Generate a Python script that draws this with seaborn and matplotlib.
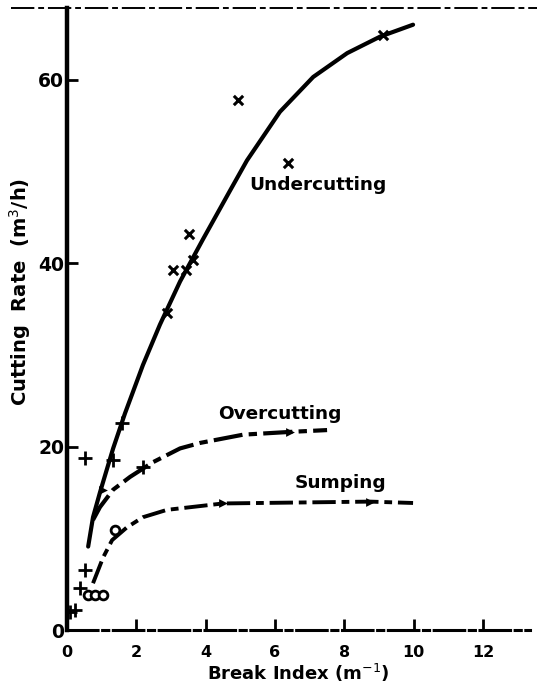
import matplotlib
matplotlib.use("Agg")
import matplotlib.pyplot as plt
import seaborn as sns
import pandas as pd
from matplotlib.lines import Line2D

sns.set_theme(style="white")
plt.rcParams["font.family"] = ["DejaVu Sans"]
plt.rcParams.update({"text.color": "black", "axes.labelcolor": "black",
                     "xtick.color": "black", "ytick.color": "black"})

# Fitted curves (break index in m^-1, cutting rate in m^3/h)
under_x = [0.61, 0.75, 0.95, 1.33, 1.67, 2.19, 2.68, 3.26, 3.92, 4.70, 5.19, 6.14, 7.1, 8.08, 9.03, 9.98]
under_y = [9.1, 12.3, 15.0, 19.8, 23.6, 28.9, 33.3, 38.0, 42.6, 47.9, 51.2, 56.5, 60.3, 62.9, 64.7, 66.0]

over_x = [0.75, 0.95, 1.33, 1.82, 2.48, 3.26, 3.84, 5.08, 6.43, 7.5]
over_y = [12.0, 13.4, 15.3, 16.7, 18.3, 19.8, 20.4, 21.3, 21.6, 21.8]

sump_x = [0.75, 1.04, 1.3, 1.73, 2.19, 2.88, 4.5, 8.74, 9.98]
sump_y = [5.1, 7.9, 9.8, 11.2, 12.3, 13.1, 13.8, 14.0, 13.85]

# Measured points
under_pts_x = [9.11, 4.93, 6.37, 3.52, 3.06, 3.43, 3.63, 2.88]
under_pts_y = [64.9, 57.8, 50.9, 43.2, 39.2, 39.3, 40.3, 34.6]

plus_pts_x = [1.59, 0.52, 1.33, 0.52, 0.38, 0.23, 0.08, 2.19]
plus_pts_y = [22.6, 18.8, 18.5, 6.5, 4.6, 2.2, 2.0, 17.8]

circle_pts_x = [0.61, 0.81, 1.04, 1.38]
circle_pts_y = [3.8, 3.8, 3.8, 10.9]

arrow_pts_x = [1.04, 6.43, 4.5, 8.74]
arrow_pts_y = [15.3, 21.6, 13.8, 14.0]

x_ticks = [0, 2, 4, 6, 8, 10, 12]
y_ticks = [0, 20, 40, 60]

fig = plt.figure(figsize=(5.37, 6.94), dpi=100)
ax = fig.add_axes([0.1248, 0.0922, 0.862, 0.896])

curves = pd.concat([
    pd.DataFrame({"x": under_x, "y": under_y, "mode": "Undercutting"}),
    pd.DataFrame({"x": over_x, "y": over_y, "mode": "Overcutting"}),
    pd.DataFrame({"x": sump_x, "y": sump_y, "mode": "Sumping"}),
])

sns.lineplot(data=curves[curves["mode"] == "Undercutting"], x="x", y="y",
             sort=False, estimator=None, color="black", lw=3.0, ax=ax)
ax.lines[-1].set_solid_joinstyle("round")
sns.lineplot(data=curves[curves["mode"] == "Overcutting"], x="x", y="y",
             sort=False, estimator=None, color="black", lw=3.0, ax=ax)
ax.lines[-1].set_dashes([7, 1.5, 2, 1.5])
sns.lineplot(data=curves[curves["mode"] == "Sumping"], x="x", y="y",
             sort=False, estimator=None, color="black", lw=2.8, ax=ax)
ax.lines[-1].set_dashes([6, 1.5, 2, 1.5])

sns.scatterplot(x=under_pts_x, y=under_pts_y, marker="x", s=45,
                color="black", linewidth=2.2, ax=ax)
sns.scatterplot(x=plus_pts_x, y=plus_pts_y, marker="+", s=110,
                color="black", linewidth=2.0, ax=ax)
sns.scatterplot(x=circle_pts_x, y=circle_pts_y, marker="o", s=40,
                facecolor="white", edgecolor="black", linewidth=2.0, ax=ax)
sns.scatterplot(x=arrow_pts_x, y=arrow_pts_y, marker=">", s=40,
                color="black", linewidth=0, ax=ax)

ax.set_xlim(0, 13.35)
ax.set_ylim(0, 67.8)
ax.set_xticks(x_ticks)
ax.set_yticks(y_ticks)
ax.set_xticklabels([str(t) for t in x_ticks], fontsize=11.5, fontweight="bold")
ax.set_yticklabels([str(t) for t in y_ticks], fontsize=13.5, fontweight="bold")
ax.tick_params(axis="both", direction="in", length=8, width=2, color="black",
               left=True, bottom=True)
ax.tick_params(axis="x", pad=11)
ax.tick_params(axis="y", pad=2)

for side in ["top", "right"]:
    ax.spines[side].set_visible(False)
ax.spines["left"].set_linewidth(3.2)
ax.spines["left"].set_color("black")
ax.spines["bottom"].set_linewidth(2.2)
ax.spines["bottom"].set_color("black")
ax.spines["bottom"].set_linestyle((0, (10, 1.5, 2, 1.5)))

ax.set_xlabel("Break Index (m$^{-1}$)", fontsize=13, fontweight="bold")
ax.set_ylabel("Cutting  Rate  (m$^3$/h)", fontsize=14, fontweight="bold")
ax.xaxis.set_label_coords(0.5, -0.052)
ax.yaxis.set_label_coords(-0.073, 0.543)

ax.text(5.25, 48.5, "Undercutting", fontsize=13.3, fontweight="bold", va="center")
ax.text(4.35, 23.6, "Overcutting", fontsize=13.3, fontweight="bold", va="center")
ax.text(6.55, 16.0, "Sumping", fontsize=13.3, fontweight="bold", va="center")

# page-edge rule across the top
fig.add_artist(Line2D([0.02, 1.0], [0.988, 0.988], transform=fig.transFigure,
                      color="black", lw=1.4, dashes=[12, 2, 3, 2]))

fig.savefig("out.png", dpi=100, facecolor="white")
